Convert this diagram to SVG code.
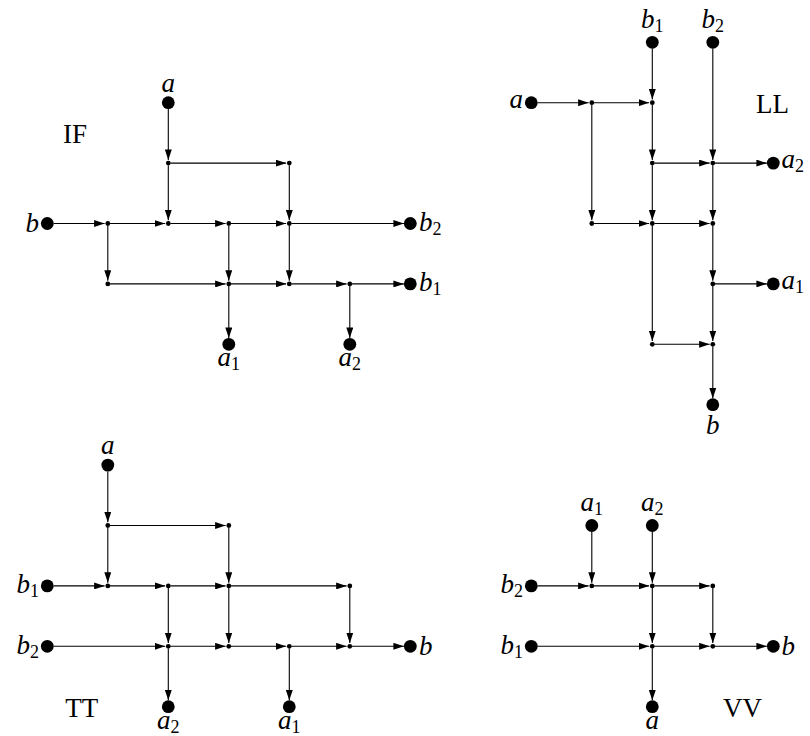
<svg xmlns="http://www.w3.org/2000/svg" width="810" height="736" viewBox="0 0 810 736">
<style>
.bg{fill:#fff}
.lbl{font-family:"Liberation Serif","Times New Roman",serif;font-style:italic;font-size:27px;fill:#000}
.sub{font-style:normal;font-size:18px}
.title{font-family:"Liberation Serif","Times New Roman",serif;font-size:27px;fill:#000;text-anchor:middle}
.mid{text-anchor:middle}
.end{text-anchor:end}
.t{fill:#000}
.s{fill:#000}
.e{stroke:#000;stroke-width:1.1;fill:none;marker-end:url(#ah)}
</style>
<defs>
<marker id="ah" viewBox="0 0 10.5 7" refX="10.5" refY="3.5" markerWidth="10.5" markerHeight="7" markerUnits="userSpaceOnUse" orient="auto">
<path d="M0,0 L10.5,3.5 L0,7 z" fill="#000"/>
</marker>
</defs>
<rect class="bg" x="0" y="0" width="810" height="736"/>

<g id="connectors">
<line class="e" x1="168.3" y1="109" x2="168.3" y2="159.9"/>
<line class="e" x1="170.5" y1="163.1" x2="286.1" y2="163.1"/>
<line class="e" x1="168.3" y1="165.3" x2="168.3" y2="220.3"/>
<line class="e" x1="289.3" y1="165.3" x2="289.3" y2="220.3"/>
<line class="e" x1="53.6" y1="223.5" x2="104.6" y2="223.5"/>
<line class="e" x1="110" y1="223.5" x2="165.1" y2="223.5"/>
<line class="e" x1="170.5" y1="223.5" x2="225.6" y2="223.5"/>
<line class="e" x1="231" y1="223.5" x2="286.1" y2="223.5"/>
<line class="e" x1="291.5" y1="223.5" x2="403.9" y2="223.5"/>
<line class="e" x1="107.8" y1="225.7" x2="107.8" y2="280.7"/>
<line class="e" x1="228.8" y1="225.7" x2="228.8" y2="280.7"/>
<line class="e" x1="289.3" y1="225.7" x2="289.3" y2="280.7"/>
<line class="e" x1="110" y1="283.9" x2="225.6" y2="283.9"/>
<line class="e" x1="231" y1="283.9" x2="286.1" y2="283.9"/>
<line class="e" x1="291.5" y1="283.9" x2="346.6" y2="283.9"/>
<line class="e" x1="352" y1="283.9" x2="403.9" y2="283.9"/>
<line class="e" x1="228.8" y1="286.1" x2="228.8" y2="337.9"/>
<line class="e" x1="349.8" y1="286.1" x2="349.8" y2="337.9"/>
<line class="e" x1="537.6" y1="102.7" x2="588.6" y2="102.7"/>
<line class="e" x1="594" y1="102.7" x2="649.1" y2="102.7"/>
<line class="e" x1="652.3" y1="48.6" x2="652.3" y2="99.5"/>
<line class="e" x1="652.3" y1="104.9" x2="652.3" y2="159.9"/>
<line class="e" x1="591.8" y1="104.9" x2="591.8" y2="220.3"/>
<line class="e" x1="712.8" y1="48.6" x2="712.8" y2="159.9"/>
<line class="e" x1="654.5" y1="163.1" x2="709.6" y2="163.1"/>
<line class="e" x1="715" y1="163.1" x2="766.9" y2="163.1"/>
<line class="e" x1="652.3" y1="165.3" x2="652.3" y2="220.3"/>
<line class="e" x1="712.8" y1="165.3" x2="712.8" y2="220.3"/>
<line class="e" x1="594" y1="223.5" x2="649.1" y2="223.5"/>
<line class="e" x1="654.5" y1="223.5" x2="709.6" y2="223.5"/>
<line class="e" x1="712.8" y1="225.7" x2="712.8" y2="280.7"/>
<line class="e" x1="715" y1="283.9" x2="766.9" y2="283.9"/>
<line class="e" x1="652.3" y1="225.7" x2="652.3" y2="341.1"/>
<line class="e" x1="654.5" y1="344.3" x2="709.6" y2="344.3"/>
<line class="e" x1="712.8" y1="286.1" x2="712.8" y2="341.1"/>
<line class="e" x1="712.8" y1="346.5" x2="712.8" y2="398.3"/>
<line class="e" x1="107.8" y1="471.4" x2="107.8" y2="522.3"/>
<line class="e" x1="110" y1="525.5" x2="225.6" y2="525.5"/>
<line class="e" x1="107.8" y1="527.7" x2="107.8" y2="582.7"/>
<line class="e" x1="228.8" y1="527.7" x2="228.8" y2="582.7"/>
<line class="e" x1="53.6" y1="585.9" x2="104.6" y2="585.9"/>
<line class="e" x1="110" y1="585.9" x2="165.1" y2="585.9"/>
<line class="e" x1="170.5" y1="585.9" x2="225.6" y2="585.9"/>
<line class="e" x1="231" y1="585.9" x2="346.6" y2="585.9"/>
<line class="e" x1="168.3" y1="588.1" x2="168.3" y2="643.1"/>
<line class="e" x1="228.8" y1="588.1" x2="228.8" y2="643.1"/>
<line class="e" x1="349.8" y1="588.1" x2="349.8" y2="643.1"/>
<line class="e" x1="53.6" y1="646.3" x2="165.1" y2="646.3"/>
<line class="e" x1="170.5" y1="646.3" x2="225.6" y2="646.3"/>
<line class="e" x1="231" y1="646.3" x2="286.1" y2="646.3"/>
<line class="e" x1="291.5" y1="646.3" x2="346.6" y2="646.3"/>
<line class="e" x1="352" y1="646.3" x2="403.9" y2="646.3"/>
<line class="e" x1="168.3" y1="648.5" x2="168.3" y2="700.3"/>
<line class="e" x1="289.3" y1="648.5" x2="289.3" y2="700.3"/>
<line class="e" x1="591.8" y1="531.8" x2="591.8" y2="582.7"/>
<line class="e" x1="652.3" y1="531.8" x2="652.3" y2="582.7"/>
<line class="e" x1="537.6" y1="585.9" x2="588.6" y2="585.9"/>
<line class="e" x1="594" y1="585.9" x2="649.1" y2="585.9"/>
<line class="e" x1="654.5" y1="585.9" x2="709.6" y2="585.9"/>
<line class="e" x1="652.3" y1="588.1" x2="652.3" y2="643.1"/>
<line class="e" x1="712.8" y1="588.1" x2="712.8" y2="643.1"/>
<line class="e" x1="537.6" y1="646.3" x2="649.1" y2="646.3"/>
<line class="e" x1="654.5" y1="646.3" x2="709.6" y2="646.3"/>
<line class="e" x1="715" y1="646.3" x2="766.9" y2="646.3"/>
<line class="e" x1="652.3" y1="648.5" x2="652.3" y2="700.3"/>
</g>

<text class="title" x="75" y="143">IF</text>
<text class="title" x="772.5" y="112.5">LL</text>
<text class="title" x="81.7" y="716.5">TT</text>
<text class="title" x="742.5" y="716.5">VV</text>

<g id="if-a"><circle class="t" cx="168.3" cy="102.7" r="6.4"/><text class="lbl mid" x="168.3" y="91.7">a</text></g>
<g id="if-b"><circle class="t" cx="47.3" cy="223.5" r="6.4"/><text class="lbl end" x="39" y="232">b</text></g>
<g id="if-b2"><circle class="t" cx="410.3" cy="223.5" r="6.4"/><text class="lbl" x="419" y="231">b<tspan class="sub" dy="4">2</tspan></text></g>
<g id="if-b1"><circle class="t" cx="410.3" cy="283.9" r="6.4"/><text class="lbl" x="419" y="291.4">b<tspan class="sub" dy="4">1</tspan></text></g>
<g id="if-a1"><circle class="t" cx="228.8" cy="344.3" r="6.4"/><text class="lbl mid" x="228.8" y="366.3">a<tspan class="sub" dy="4">1</tspan></text></g>
<g id="if-a2"><circle class="t" cx="349.8" cy="344.3" r="6.4"/><text class="lbl mid" x="349.8" y="366.3">a<tspan class="sub" dy="4">2</tspan></text></g>
<g id="if-n1"><circle class="s" cx="168.3" cy="163.1" r="2.4"/></g>
<g id="if-n2"><circle class="s" cx="289.3" cy="163.1" r="2.4"/></g>
<g id="if-n3"><circle class="s" cx="107.8" cy="223.5" r="2.4"/></g>
<g id="if-n4"><circle class="s" cx="168.3" cy="223.5" r="2.4"/></g>
<g id="if-n5"><circle class="s" cx="228.8" cy="223.5" r="2.4"/></g>
<g id="if-n6"><circle class="s" cx="289.3" cy="223.5" r="2.4"/></g>
<g id="if-n7"><circle class="s" cx="107.8" cy="283.9" r="2.4"/></g>
<g id="if-n8"><circle class="s" cx="228.8" cy="283.9" r="2.4"/></g>
<g id="if-n9"><circle class="s" cx="289.3" cy="283.9" r="2.4"/></g>
<g id="if-n10"><circle class="s" cx="349.8" cy="283.9" r="2.4"/></g>

<g id="ll-b1"><circle class="t" cx="652.3" cy="42.3" r="6.4"/><text class="lbl mid" x="652.3" y="28">b<tspan class="sub" dy="4">1</tspan></text></g>
<g id="ll-b2"><circle class="t" cx="712.8" cy="42.3" r="6.4"/><text class="lbl mid" x="712.8" y="28">b<tspan class="sub" dy="4">2</tspan></text></g>
<g id="ll-a"><circle class="t" cx="531.3" cy="102.7" r="6.4"/><text class="lbl end" x="523" y="108">a</text></g>
<g id="ll-a2"><circle class="t" cx="773.3" cy="163.1" r="6.4"/><text class="lbl" x="781.5" y="168">a<tspan class="sub" dy="4">2</tspan></text></g>
<g id="ll-a1"><circle class="t" cx="773.3" cy="283.9" r="6.4"/><text class="lbl" x="781.5" y="288.9">a<tspan class="sub" dy="4">1</tspan></text></g>
<g id="ll-b"><circle class="t" cx="712.8" cy="404.7" r="6.4"/><text class="lbl mid" x="712.8" y="433.5">b</text></g>
<g id="ll-n1"><circle class="s" cx="591.8" cy="102.7" r="2.4"/></g>
<g id="ll-n2"><circle class="s" cx="652.3" cy="102.7" r="2.4"/></g>
<g id="ll-n3"><circle class="s" cx="652.3" cy="163.1" r="2.4"/></g>
<g id="ll-n4"><circle class="s" cx="712.8" cy="163.1" r="2.4"/></g>
<g id="ll-n5"><circle class="s" cx="591.8" cy="223.5" r="2.4"/></g>
<g id="ll-n6"><circle class="s" cx="652.3" cy="223.5" r="2.4"/></g>
<g id="ll-n7"><circle class="s" cx="712.8" cy="223.5" r="2.4"/></g>
<g id="ll-n8"><circle class="s" cx="712.8" cy="283.9" r="2.4"/></g>
<g id="ll-n9"><circle class="s" cx="652.3" cy="344.3" r="2.4"/></g>
<g id="ll-n10"><circle class="s" cx="712.8" cy="344.3" r="2.4"/></g>

<g id="tt-a"><circle class="t" cx="107.8" cy="465.1" r="6.4"/><text class="lbl mid" x="107.8" y="454.1">a</text></g>
<g id="tt-b1"><circle class="t" cx="47.3" cy="585.9" r="6.4"/><text class="lbl end" x="39" y="593.2">b<tspan class="sub" dy="4">1</tspan></text></g>
<g id="tt-b2"><circle class="t" cx="47.3" cy="646.3" r="6.4"/><text class="lbl end" x="39" y="653.6">b<tspan class="sub" dy="4">2</tspan></text></g>
<g id="tt-b"><circle class="t" cx="410.3" cy="646.3" r="6.4"/><text class="lbl" x="419" y="654.8">b</text></g>
<g id="tt-a2"><circle class="t" cx="168.3" cy="706.7" r="6.4"/><text class="lbl mid" x="168.3" y="729">a<tspan class="sub" dy="4">2</tspan></text></g>
<g id="tt-a1"><circle class="t" cx="289.3" cy="706.7" r="6.4"/><text class="lbl mid" x="289.3" y="729">a<tspan class="sub" dy="4">1</tspan></text></g>
<g id="tt-n1"><circle class="s" cx="107.8" cy="525.5" r="2.4"/></g>
<g id="tt-n2"><circle class="s" cx="228.8" cy="525.5" r="2.4"/></g>
<g id="tt-n3"><circle class="s" cx="107.8" cy="585.9" r="2.4"/></g>
<g id="tt-n4"><circle class="s" cx="168.3" cy="585.9" r="2.4"/></g>
<g id="tt-n5"><circle class="s" cx="228.8" cy="585.9" r="2.4"/></g>
<g id="tt-n6"><circle class="s" cx="349.8" cy="585.9" r="2.4"/></g>
<g id="tt-n7"><circle class="s" cx="168.3" cy="646.3" r="2.4"/></g>
<g id="tt-n8"><circle class="s" cx="228.8" cy="646.3" r="2.4"/></g>
<g id="tt-n9"><circle class="s" cx="289.3" cy="646.3" r="2.4"/></g>
<g id="tt-n10"><circle class="s" cx="349.8" cy="646.3" r="2.4"/></g>

<g id="vv-a1"><circle class="t" cx="591.8" cy="525.5" r="6.4"/><text class="lbl mid" x="591.8" y="511.2">a<tspan class="sub" dy="4">1</tspan></text></g>
<g id="vv-a2"><circle class="t" cx="652.3" cy="525.5" r="6.4"/><text class="lbl mid" x="652.3" y="511.2">a<tspan class="sub" dy="4">2</tspan></text></g>
<g id="vv-b2"><circle class="t" cx="531.3" cy="585.9" r="6.4"/><text class="lbl end" x="523" y="593.2">b<tspan class="sub" dy="4">2</tspan></text></g>
<g id="vv-b1"><circle class="t" cx="531.3" cy="646.3" r="6.4"/><text class="lbl end" x="523" y="653.6">b<tspan class="sub" dy="4">1</tspan></text></g>
<g id="vv-b"><circle class="t" cx="773.3" cy="646.3" r="6.4"/><text class="lbl" x="781.5" y="654.8">b</text></g>
<g id="vv-a"><circle class="t" cx="652.3" cy="706.7" r="6.4"/><text class="lbl mid" x="652.3" y="729">a</text></g>
<g id="vv-n1"><circle class="s" cx="591.8" cy="585.9" r="2.4"/></g>
<g id="vv-n2"><circle class="s" cx="652.3" cy="585.9" r="2.4"/></g>
<g id="vv-n3"><circle class="s" cx="712.8" cy="585.9" r="2.4"/></g>
<g id="vv-n4"><circle class="s" cx="652.3" cy="646.3" r="2.4"/></g>
<g id="vv-n5"><circle class="s" cx="712.8" cy="646.3" r="2.4"/></g>
</svg>
